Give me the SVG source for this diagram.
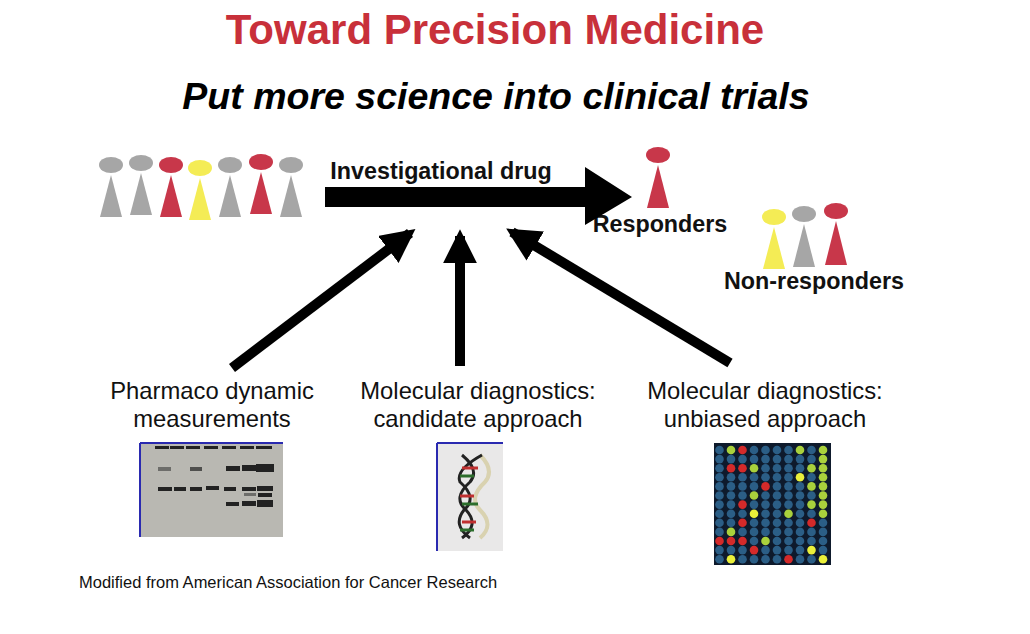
<svg xmlns="http://www.w3.org/2000/svg" width="1030" height="634" viewBox="0 0 1030 634">
<style>
text{font-family:"Liberation Sans",Arial,sans-serif}
.g{fill:#a6a6a6}.r{fill:#c8374a}.y{fill:#f4ec55}
.lab{font-size:23.8px;text-anchor:middle;fill:#111}
.b{font-weight:bold;font-size:23.3px;fill:#111}
.B{fill:#2b5e86}.G{fill:#a9d13c}.Y{fill:#eaf03a}.R{fill:#d42a2a}
</style>
<defs>
<marker id="ah" viewBox="0 0 10 10" refX="8" refY="5" markerWidth="3.4" markerHeight="3.4" orient="auto" markerUnits="strokeWidth"><path d="M0,0 L10,5 L0,10 z" fill="#000"/></marker>
</defs>
<rect width="1030" height="634" fill="#fff"/>
<text x="495" y="44" text-anchor="middle" font-size="42" font-weight="bold" fill="#c8303a">Toward Precision Medicine</text>
<text x="496" y="109" text-anchor="middle" font-size="37.5" font-weight="bold" font-style="italic" fill="#000">Put more science into clinical trials</text>
<g id="crowd">
<ellipse class="g" cx="111" cy="165" rx="12" ry="8"/><path class="g" d="M111,175 L100,217 L122,217 z"/>
<ellipse class="g" cx="141" cy="163" rx="12" ry="8"/><path class="g" d="M141,173 L130,215 L152,215 z"/>
<ellipse class="r" cx="171" cy="165" rx="12" ry="8"/><path class="r" d="M171,175 L160,217 L182,217 z"/>
<ellipse class="y" cx="200" cy="168" rx="12" ry="8"/><path class="y" d="M200,178 L189,220 L211,220 z"/>
<ellipse class="g" cx="230" cy="165" rx="12" ry="8"/><path class="g" d="M230,175 L219,217 L241,217 z"/>
<ellipse class="r" cx="261" cy="162" rx="12" ry="8"/><path class="r" d="M261,172 L250,214 L272,214 z"/>
<ellipse class="g" cx="291" cy="165" rx="12" ry="8"/><path class="g" d="M291,175 L280,217 L302,217 z"/>
</g>
<g id="responders">
<ellipse class="r" cx="658" cy="155" rx="12" ry="8"/><path class="r" d="M658,165 L647,208 L669,208 z"/>
<text class="b" x="660" y="232" text-anchor="middle">Responders</text>
</g>
<g id="nonresponders">
<ellipse class="y" cx="774" cy="217" rx="12" ry="8"/><path class="y" d="M774,227 L763,269 L785,269 z"/>
<ellipse class="g" cx="804" cy="214" rx="12" ry="8"/><path class="g" d="M804,224 L793,267 L815,267 z"/>
<ellipse class="r" cx="836" cy="211" rx="12" ry="8"/><path class="r" d="M836,221 L825,265 L847,265 z"/>
<text class="b" x="814" y="289" text-anchor="middle">Non-responders</text>
</g>
<g id="drug">
<path d="M325,187 L585,187 L585,167 L632,197 L585,225 L585,207 L325,207 z" fill="#000"/>
<text class="b" x="441" y="179" text-anchor="middle">Investigational drug</text>
</g>
<g id="connectors" stroke="#000" stroke-width="10" fill="none" marker-end="url(#ah)">
<line x1="232" y1="368" x2="410" y2="233"/>
<line x1="460" y1="366" x2="460" y2="236"/>
<line x1="730" y1="363" x2="512" y2="232"/>
</g>
<g id="pd">
<text class="lab" x="212" y="399">Pharmaco dynamic</text>
<text class="lab" x="212" y="427">measurements</text>
<rect x="140" y="443" width="143" height="94" fill="#b9b8b2"/>
<path d="M140,443 V537 M140,443 H283" stroke="#2a2ab0" stroke-width="2"/>
<g fill="#222">
<rect x="155" y="446" width="14" height="3"/><rect x="170" y="446" width="14" height="3"/><rect x="186" y="446" width="14" height="3"/><rect x="204" y="446" width="14" height="3"/><rect x="222" y="446" width="14" height="3"/><rect x="240" y="446" width="14" height="3"/><rect x="256" y="446" width="16" height="3"/>
<rect x="158" y="467" width="13" height="4" opacity=".5"/><rect x="190" y="467" width="12" height="4" opacity=".7"/><rect x="226" y="466" width="14" height="5"/><rect x="242" y="465" width="14" height="6"/><rect x="256" y="464" width="18" height="8"/>
<rect x="158" y="487" width="14" height="4"/><rect x="174" y="487" width="12" height="4"/><rect x="190" y="487" width="12" height="4"/><rect x="206" y="486" width="13" height="4"/><rect x="224" y="487" width="12" height="4"/><rect x="242" y="487" width="14" height="4"/><rect x="257" y="486" width="16" height="5"/>
<rect x="244" y="493" width="12" height="3" opacity=".5"/><rect x="258" y="493" width="14" height="4"/>
<rect x="226" y="502" width="13" height="4"/><rect x="242" y="501" width="14" height="5"/><rect x="257" y="500" width="16" height="7"/>
</g>
</g>
<g id="candidate">
<text class="lab" x="478" y="399">Molecular diagnostics:</text>
<text class="lab" x="478" y="427">candidate approach</text>
<rect x="437" y="443" width="66" height="108" fill="#e9e8e8"/>
<path d="M437,443 V551 M437,443 H503" stroke="#2a2ab0" stroke-width="2"/>
<path d="M470,455 Q485,470 475,482 Q458,498 470,510 Q485,525 470,538" stroke="#d9d2b0" stroke-width="4" fill="none" transform="translate(10,0)"/>
<path d="M462,455 Q480,470 470,482 Q452,498 466,510 Q480,525 462,538" stroke="#222" stroke-width="3" fill="none"/>
<path d="M482,455 Q455,470 460,482 Q478,498 464,510 Q452,525 470,538" stroke="#222" stroke-width="3" fill="none"/>
<g stroke-width="3"><line x1="462" y1="468" x2="478" y2="468" stroke="#c03030"/><line x1="460" y1="476" x2="474" y2="476" stroke="#2c6e2c"/><line x1="460" y1="496" x2="474" y2="496" stroke="#c03030"/><line x1="462" y1="504" x2="478" y2="504" stroke="#2c6e2c"/><line x1="462" y1="522" x2="476" y2="522" stroke="#c03030"/><line x1="460" y1="530" x2="474" y2="530" stroke="#2c6e2c"/></g>
</g>
<g id="unbiased">
<text class="lab" x="765" y="399">Molecular diagnostics:</text>
<text class="lab" x="765" y="427">unbiased approach</text>
<rect x="714" y="443" width="117" height="122" fill="#0e1a2c"/>
<g id="grid" transform="translate(719.5,450)">
<g class="B">
<circle cx="0" cy="0" r="4.3"/><circle cx="34.5" cy="0" r="4.3"/><circle cx="46" cy="0" r="4.3"/><circle cx="57.5" cy="0" r="4.3"/><circle cx="69" cy="0" r="4.3"/><circle cx="92" cy="0" r="4.3"/>
<circle cx="0" cy="9.1" r="4.3"/><circle cx="11.5" cy="9.1" r="4.3"/><circle cx="23" cy="9.1" r="4.3"/><circle cx="34.5" cy="9.1" r="4.3"/><circle cx="46" cy="9.1" r="4.3"/><circle cx="57.5" cy="9.1" r="4.3"/><circle cx="69" cy="9.1" r="4.3"/><circle cx="80.5" cy="9.1" r="4.3"/><circle cx="92" cy="9.1" r="4.3"/>
<circle cx="0" cy="18.2" r="4.3"/><circle cx="46" cy="18.2" r="4.3"/><circle cx="57.5" cy="18.2" r="4.3"/><circle cx="69" cy="18.2" r="4.3"/><circle cx="80.5" cy="18.2" r="4.3"/>
<circle cx="0" cy="27.3" r="4.3"/><circle cx="11.5" cy="27.3" r="4.3"/><circle cx="23" cy="27.3" r="4.3"/><circle cx="34.5" cy="27.3" r="4.3"/><circle cx="46" cy="27.3" r="4.3"/><circle cx="57.5" cy="27.3" r="4.3"/><circle cx="69" cy="27.3" r="4.3"/><circle cx="92" cy="27.3" r="4.3"/>
<circle cx="0" cy="36.4" r="4.3"/><circle cx="11.5" cy="36.4" r="4.3"/><circle cx="23" cy="36.4" r="4.3"/><circle cx="34.5" cy="36.4" r="4.3"/><circle cx="57.5" cy="36.4" r="4.3"/><circle cx="69" cy="36.4" r="4.3"/><circle cx="80.5" cy="36.4" r="4.3"/>
<circle cx="0" cy="45.5" r="4.3"/><circle cx="11.5" cy="45.5" r="4.3"/><circle cx="23" cy="45.5" r="4.3"/><circle cx="46" cy="45.5" r="4.3"/><circle cx="57.5" cy="45.5" r="4.3"/><circle cx="69" cy="45.5" r="4.3"/><circle cx="80.5" cy="45.5" r="4.3"/><circle cx="92" cy="45.5" r="4.3"/>
<circle cx="0" cy="54.6" r="4.3"/><circle cx="11.5" cy="54.6" r="4.3"/><circle cx="34.5" cy="54.6" r="4.3"/><circle cx="46" cy="54.6" r="4.3"/><circle cx="57.5" cy="54.6" r="4.3"/><circle cx="69" cy="54.6" r="4.3"/><circle cx="80.5" cy="54.6" r="4.3"/>
<circle cx="0" cy="63.7" r="4.3"/><circle cx="11.5" cy="63.7" r="4.3"/><circle cx="23" cy="63.7" r="4.3"/><circle cx="46" cy="63.7" r="4.3"/><circle cx="57.5" cy="63.7" r="4.3"/><circle cx="80.5" cy="63.7" r="4.3"/><circle cx="92" cy="63.7" r="4.3"/>
<circle cx="0" cy="72.8" r="4.3"/><circle cx="11.5" cy="72.8" r="4.3"/><circle cx="34.5" cy="72.8" r="4.3"/><circle cx="46" cy="72.8" r="4.3"/><circle cx="57.5" cy="72.8" r="4.3"/><circle cx="69" cy="72.8" r="4.3"/><circle cx="80.5" cy="72.8" r="4.3"/><circle cx="103.5" cy="72.8" r="4.3"/>
<circle cx="0" cy="81.9" r="4.3"/><circle cx="23" cy="81.9" r="4.3"/><circle cx="34.5" cy="81.9" r="4.3"/><circle cx="46" cy="81.9" r="4.3"/><circle cx="57.5" cy="81.9" r="4.3"/><circle cx="69" cy="81.9" r="4.3"/><circle cx="80.5" cy="81.9" r="4.3"/><circle cx="92" cy="81.9" r="4.3"/><circle cx="103.5" cy="81.9" r="4.3"/>
<circle cx="34.5" cy="91" r="4.3"/><circle cx="57.5" cy="91" r="4.3"/><circle cx="69" cy="91" r="4.3"/><circle cx="80.5" cy="91" r="4.3"/><circle cx="92" cy="91" r="4.3"/><circle cx="103.5" cy="91" r="4.3"/>
<circle cx="0" cy="100.1" r="4.3"/><circle cx="11.5" cy="100.1" r="4.3"/><circle cx="23" cy="100.1" r="4.3"/><circle cx="46" cy="100.1" r="4.3"/><circle cx="57.5" cy="100.1" r="4.3"/><circle cx="69" cy="100.1" r="4.3"/><circle cx="80.5" cy="100.1" r="4.3"/><circle cx="103.5" cy="100.1" r="4.3"/>
<circle cx="0" cy="109.2" r="4.3"/><circle cx="23" cy="109.2" r="4.3"/><circle cx="34.5" cy="109.2" r="4.3"/><circle cx="46" cy="109.2" r="4.3"/><circle cx="57.5" cy="109.2" r="4.3"/><circle cx="80.5" cy="109.2" r="4.3"/><circle cx="92" cy="109.2" r="4.3"/>
</g>
<g class="G"><circle cx="11.5" cy="0" r="4.3"/><circle cx="80.5" cy="0" r="4.3"/><circle cx="103.5" cy="0" r="4.3"/><circle cx="103.5" cy="9.1" r="4.3"/><circle cx="34.5" cy="18.2" r="4.3"/><circle cx="92" cy="18.2" r="4.3"/><circle cx="103.5" cy="18.2" r="4.3"/><circle cx="103.5" cy="27.3" r="4.3"/><circle cx="92" cy="36.4" r="4.3"/><circle cx="103.5" cy="36.4" r="4.3"/><circle cx="34.5" cy="45.5" r="4.3"/><circle cx="103.5" cy="45.5" r="4.3"/><circle cx="92" cy="54.6" r="4.3"/><circle cx="103.5" cy="54.6" r="4.3"/><circle cx="69" cy="63.7" r="4.3"/><circle cx="103.5" cy="63.7" r="4.3"/><circle cx="11.5" cy="81.9" r="4.3"/><circle cx="46" cy="91" r="4.3"/></g>
<g class="Y"><circle cx="80.5" cy="27.3" r="4.3"/><circle cx="34.5" cy="63.7" r="4.3"/><circle cx="92" cy="100.1" r="4.3"/><circle cx="11.5" cy="109.2" r="4.3"/><circle cx="103.5" cy="109.2" r="4.3"/></g>
<g class="R"><circle cx="23" cy="0" r="4.3"/><circle cx="11.5" cy="18.2" r="4.3"/><circle cx="23" cy="18.2" r="4.3"/><circle cx="46" cy="36.4" r="4.3"/><circle cx="23" cy="54.6" r="4.3"/><circle cx="23" cy="72.8" r="4.3"/><circle cx="92" cy="72.8" r="4.3"/><circle cx="0" cy="91" r="4.3"/><circle cx="11.5" cy="91" r="4.3"/><circle cx="23" cy="91" r="4.3"/><circle cx="34.5" cy="100.1" r="4.3"/><circle cx="69" cy="109.2" r="4.3"/></g>
</g>
</g>
<text x="79" y="588" font-size="16.5" fill="#111">Modified from American Association for Cancer Research</text>
</svg>
